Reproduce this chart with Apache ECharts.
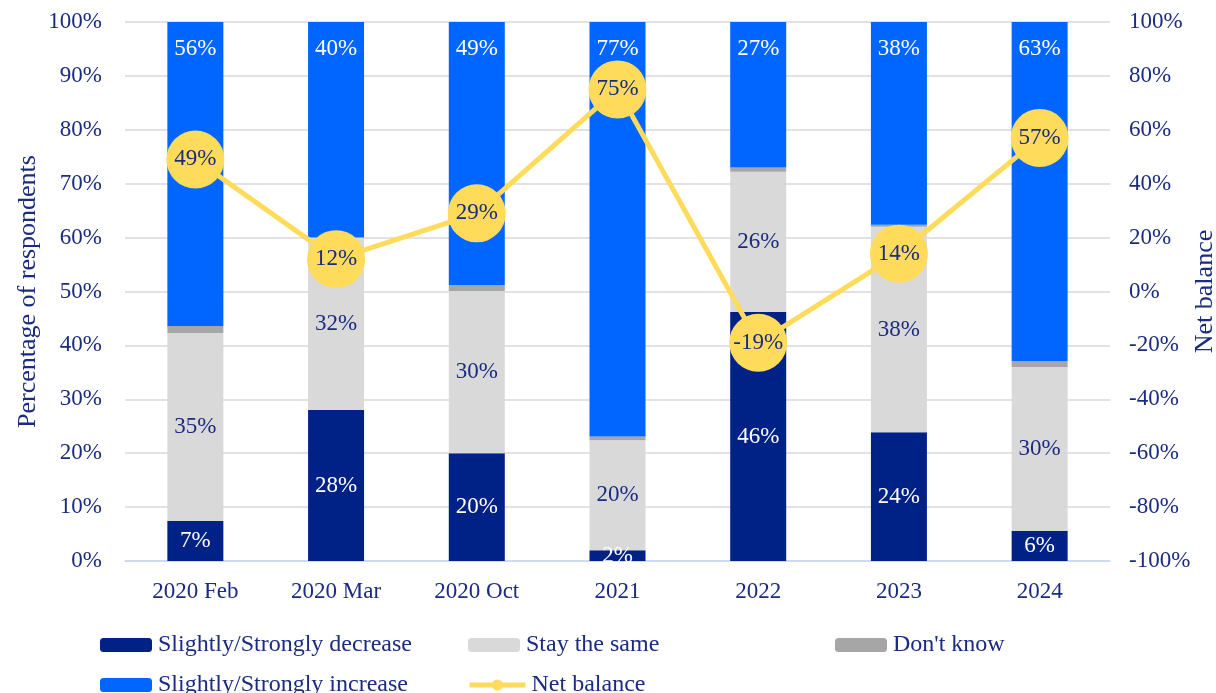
<!DOCTYPE html>
<html>
<head>
<meta charset="utf-8">
<script src="https://cdn.jsdelivr.net/npm/echarts@6/dist/echarts.min.js"></script>
<style>
  html, body { margin: 0; padding: 0; background: #ffffff; }
  #chart { width: 1216px; height: 693px; }
</style>
</head>
<body>
<div id="chart"></div>
<script>
// Survey periods
const categories = ['2020 Feb', '2020 Mar', '2020 Oct', '2021', '2022', '2023', '2024'];

// Share of respondents (%) per answer, stacked to 100
const decrease = [7.4, 28.0, 20.0, 2.0, 46.2, 23.9, 5.6];
const staySame = [34.9, 32.0, 30.1, 20.4, 26.0, 38.1, 30.4];
const dontKnow = [1.3, 0.0, 1.1, 0.7, 0.8, 0.4, 1.1];
const increase = [56.4, 40.0, 48.8, 76.9, 27.0, 37.6, 62.9];

// Net balance (%), plotted on the right axis
const netBalance = [49, 12, 29, 75, -19, 14, 57];

// Axis ticks
const leftTicks = { min: 0, max: 100, interval: 10 };
const rightTicks = { min: -100, max: 100, interval: 20 };

const NAVY = '#002287';
const BLUE = '#0066ff';
const LIGHT = '#d9d9d9';
const GREY = '#a6a6a6';
const YELLOW = '#ffdb5b';
const TEXT = '#1a2b80';
const FONT = '"Liberation Serif", "Times New Roman", serif';

const pct = p => Math.round(p.value) + '%';

const chart = echarts.init(document.getElementById('chart'));

const legendBase = {
  padding: 0,
  itemWidth: 52,
  itemHeight: 14,
  itemGap: 0,
  textStyle: { fontFamily: FONT, fontSize: 24, color: TEXT, padding: [0, 0, 0, 1] }
};

chart.setOption({
  animation: false,
  textStyle: { fontFamily: FONT },
  grid: { left: 125, right: 106, top: 22, bottom: 132, outerBoundsMode: 'none', containLabel: false },
  legend: [
    Object.assign({}, legendBase, { data: ['Slightly/Strongly decrease'], left: 100, top: 633 }),
    Object.assign({}, legendBase, { data: ['Stay the same'], left: 468, top: 633 }),
    Object.assign({}, legendBase, { data: ["Don't know"], left: 835, top: 633 }),
    Object.assign({}, legendBase, { data: ['Slightly/Strongly increase'], left: 100, top: 673 }),
    Object.assign({}, legendBase, {
      data: [{ name: 'Net balance', lineStyle: { width: 5, color: YELLOW } }],
      itemWidth: 56, itemHeight: 14, left: 467, top: 673
    })
  ],
  xAxis: {
    type: 'category',
    data: categories,
    axisLine: { lineStyle: { color: '#c9d6f5', width: 1.5 } },
    axisTick: { show: false },
    axisLabel: { fontFamily: FONT, fontSize: 23, color: TEXT, margin: 19 }
  },
  yAxis: [
    {
      type: 'value',
      min: leftTicks.min, max: leftTicks.max, interval: leftTicks.interval,
      name: 'Percentage of respondents',
      nameLocation: 'middle',
      nameGap: 84,
      nameMoveOverlap: false,
      nameTextStyle: { fontFamily: FONT, fontSize: 26, color: TEXT },
      axisLabel: { fontFamily: FONT, fontSize: 23, color: TEXT, margin: 23, formatter: v => v + '%' },
      axisLine: { show: false },
      axisTick: { show: false },
      splitLine: { lineStyle: { color: '#d9d9d9', width: 1.5 } }
    },
    {
      type: 'value',
      min: rightTicks.min, max: rightTicks.max, interval: rightTicks.interval,
      name: 'Net balance',
      nameLocation: 'middle',
      nameGap: 82,
      nameMoveOverlap: false,
      nameRotate: 90,
      nameTextStyle: { fontFamily: FONT, fontSize: 26, color: TEXT },
      axisLabel: { fontFamily: FONT, fontSize: 23, color: TEXT, margin: 19, formatter: v => v + '%' },
      axisLine: { show: false },
      axisTick: { show: false },
      splitLine: { show: false }
    }
  ],
  series: [
    {
      name: 'Slightly/Strongly decrease', type: 'bar', stack: 'share', barWidth: 56,
      data: decrease, itemStyle: { color: NAVY },
      label: { show: true, position: 'inside', formatter: pct, color: '#ffffff', fontFamily: FONT, fontSize: 23 }
    },
    {
      name: 'Stay the same', type: 'bar', stack: 'share', barWidth: 56,
      data: staySame, itemStyle: { color: LIGHT },
      label: { show: true, position: 'inside', formatter: pct, color: TEXT, fontFamily: FONT, fontSize: 23 }
    },
    {
      name: "Don't know", type: 'bar', stack: 'share', barWidth: 56,
      data: dontKnow, itemStyle: { color: GREY }
    },
    {
      name: 'Slightly/Strongly increase', type: 'bar', stack: 'share', barWidth: 56,
      data: increase, itemStyle: { color: BLUE },
      label: { show: true, position: 'insideTop', distance: 15, formatter: pct, color: '#ffffff', fontFamily: FONT, fontSize: 23 }
    },
    {
      name: 'Net balance', type: 'line', yAxisIndex: 1,
      data: netBalance,
      symbol: 'circle', symbolSize: 58,
      lineStyle: { color: YELLOW, width: 5 },
      itemStyle: { color: YELLOW },
      label: { show: true, position: 'inside', formatter: pct, color: TEXT, fontFamily: FONT, fontSize: 23 },
      z: 5
    }
  ]
});
</script>
</body>
</html>
